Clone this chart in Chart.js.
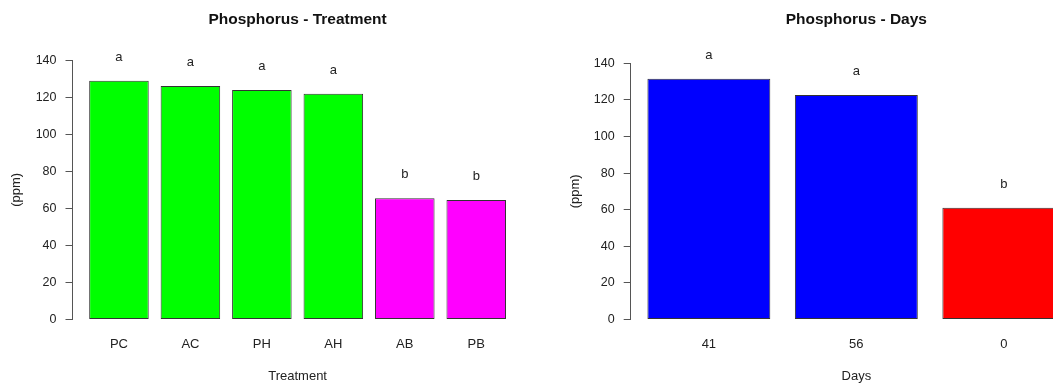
<!DOCTYPE html>
<html>
<head>
<meta charset="utf-8">
<title>Phosphorus</title>
<script src="https://cdn.jsdelivr.net/npm/chart.js@4/dist/chart.umd.min.js"></script>
<style>
  html, body { margin: 0; padding: 0; background: #fff; overflow: hidden; width: 1053px; height: 383px; }
  .panel { position: absolute; top: 0; }
</style>
</head>
<body>
<div class="panel" style="left:0"><canvas id="chartTreatment" width="530" height="383"></canvas></div>
<div class="panel" style="left:530px"><canvas id="chartDays" width="560" height="383"></canvas></div>
<script>
// data
let treatmentNames = ['PC', 'AC', 'PH', 'AH', 'AB', 'PB'];
let treatmentValues = [128.9, 126.1, 123.9, 121.9, 65.5, 64.6];
let treatmentLetters = ['a', 'a', 'a', 'a', 'b', 'b'];

let daysNames = ['41', '56', '0'];
let daysValues = [131.5, 122.7, 61.1];
let daysLetters = ['a', 'a', 'b'];

let yTicks = [0, 20, 40, 60, 80, 100, 120, 140];

let treatmentColors = ['#00ff00', '#00ff00', '#00ff00', '#00ff00', '#ff00ff', '#ff00ff'];
let daysColors = ['#0000ff', '#0000ff', '#ff0000'];

Chart.defaults.font.family = '"Liberation Sans", Arial, Helvetica, sans-serif';
Chart.defaults.color = '#222';

// letters above bars (like text() in R)
const letterPlugin = {
  id: 'letters',
  afterDatasetsDraw(chart, args, opts) {
    let ctx = chart.ctx;
    let meta = chart.getDatasetMeta(0);
    ctx.save();
    ctx.font = '13px "Liberation Sans", Arial, sans-serif';
    ctx.fillStyle = '#222';
    ctx.textAlign = 'center';
    ctx.textBaseline = 'alphabetic';
    meta.data.forEach((bar, i) => {
      ctx.fillText(opts.letters[i], bar.x, bar.y - 20);
    });
    ctx.restore();
  }
};

function drawBarPanel(id, title, xTitle, names, values, letters, colors, layoutOpt) {
  // R barplot style positions: width 1, space 0.2
  let mids = names.map((n, i) => 0.7 + i * 1.2);
  let lo = 0.2, hi = names.length * 1.2;
  let ext = (hi - lo) * 0.04;

  let ctx = document.getElementById(id).getContext('2d');
  return new Chart(ctx, {
    type: 'bar',
    data: {
      datasets: [{
        data: values.map((v, i) => ({ x: mids[i], y: v })),
        backgroundColor: colors,
        borderColor: '#333',
        borderWidth: 1,
        borderSkipped: false,
        barPercentage: 1 / 1.2,
        categoryPercentage: 1
      }]
    },
    options: {
      responsive: false,
      animation: false,
      devicePixelRatio: 1,
      layout: { padding: { left: 0, right: layoutOpt.padRight, top: 0, bottom: -1 } },
      plugins: {
        legend: { display: false },
        tooltip: { enabled: false },
        title: {
          display: true,
          text: title,
          fullSize: false,
          color: '#111',
          font: { size: 15.5, weight: 'bold' },
          padding: { top: 10.7, bottom: layoutOpt.titleBottom }
        },
        letters: { letters: letters }
      },
      scales: {
        x: {
          type: 'linear',
          min: lo - ext,
          max: hi + ext,
          offset: false,
          afterBuildTicks: s => { s.ticks = mids.map(v => ({ value: v })); },
          afterFit: s => { s.height = 64.5; },
          grid: { display: false, drawTicks: false, offset: false },
          border: { display: false },
          ticks: {
            autoSkip: false,
            maxRotation: 0,
            padding: 17.5,
            color: '#222',
            font: { size: 13 },
            callback: (v, i) => names[i]
          },
          title: {
            display: true,
            text: xTitle,
            color: '#222',
            font: { size: 13 },
            padding: { top: 0, bottom: 0 }
          }
        },
        y: {
          min: 0,
          max: 140,
          afterBuildTicks: s => { s.ticks = yTicks.map(v => ({ value: v })); },
          afterFit: s => { s.width = layoutOpt.axisWidth; },
          grid: { drawOnChartArea: false, drawTicks: true, tickLength: 7, color: '#555' },
          border: { display: true, color: '#555' },
          ticks: { padding: 9, color: '#222', font: { size: 12.5 } },
          title: {
            display: true,
            text: '(ppm)',
            color: '#222',
            font: { size: 13 },
            padding: { top: layoutOpt.yTitlePad, bottom: 0 }
          }
        }
      }
    },
    plugins: [letterPlugin]
  });
}

drawBarPanel('chartTreatment', 'Phosphorus - Treatment', 'Treatment',
  treatmentNames, treatmentValues, treatmentLetters, treatmentColors,
  { axisWidth: 72.5, padRight: 7.3, titleBottom: 31, yTitlePad: 9 });

drawBarPanel('chartDays', 'Phosphorus - Days', 'Days',
  daysNames, daysValues, daysLetters, daysColors,
  { axisWidth: 100.7, padRight: 8, titleBottom: 34, yTitlePad: 37.2 });
</script>
</body>
</html>
